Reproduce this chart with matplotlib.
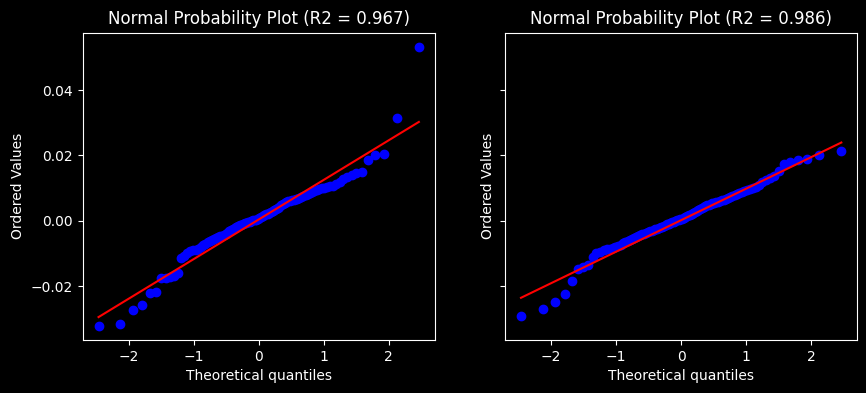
import matplotlib
matplotlib.use('Agg')
import matplotlib.pyplot as plt

# theoretical normal quantiles (same for both panels, n = 100), lower half
q_low = [-2.462, -2.126, -1.932, -1.790, -1.678, -1.584, -1.502, -1.429, -1.362, -1.302,
         -1.246, -1.193, -1.144, -1.097, -1.052, -1.010, -0.969, -0.930, -0.892, -0.856,
         -0.820, -0.786, -0.752, -0.720, -0.687, -0.656, -0.626, -0.595, -0.566, -0.537,
         -0.508, -0.480, -0.452, -0.424, -0.397, -0.370, -0.344, -0.317, -0.291, -0.265,
         -0.240, -0.214, -0.189, -0.164, -0.138, -0.113, -0.088, -0.062, -0.037, -0.012]
quantiles = q_low + [-v for v in reversed(q_low)]

# ordered values, left panel
left_vals = [-0.0322, -0.0316, -0.0273, -0.0258, -0.0222, -0.0218, -0.0176, -0.0175, -0.0172, -0.0168,
             -0.0159, -0.0115, -0.0108, -0.0100, -0.0093, -0.0090, -0.0088, -0.0085, -0.0080, -0.0075,
             -0.0070, -0.0066, -0.0062, -0.0059, -0.0057, -0.0054, -0.0051, -0.0048, -0.0045, -0.0042,
             -0.0039, -0.0036, -0.0032, -0.0029, -0.0026, -0.0023, -0.0020, -0.0017, -0.0014, -0.0012,
             -0.0010, -0.0008, -0.0006, -0.0005, -0.0003, -0.0001, 0.0001, 0.0002, 0.0004, 0.0006,
             0.0010, 0.0013, 0.0015, 0.0017, 0.0020, 0.0022, 0.0025, 0.0028, 0.0030, 0.0033,
             0.0036, 0.0040, 0.0043, 0.0047, 0.0052, 0.0055, 0.0058, 0.0060, 0.0062, 0.0063,
             0.0064, 0.0066, 0.0068, 0.0071, 0.0073, 0.0076, 0.0080, 0.0083, 0.0086, 0.0088,
             0.0090, 0.0093, 0.0096, 0.0099, 0.0101, 0.0104, 0.0106, 0.0108, 0.0112, 0.0120,
             0.0128, 0.0135, 0.0140, 0.0145, 0.0149, 0.0187, 0.0200, 0.0206, 0.0316, 0.0533]

# ordered values, right panel
right_vals = [-0.0292, -0.0271, -0.0249, -0.0225, -0.0185, -0.0148, -0.0140, -0.0135, -0.0112, -0.0100,
              -0.0095, -0.0090, -0.0087, -0.0085, -0.0082, -0.0080, -0.0077, -0.0073, -0.0069, -0.0066,
              -0.0063, -0.0060, -0.0056, -0.0052, -0.0049, -0.0046, -0.0043, -0.0041, -0.0039, -0.0036,
              -0.0034, -0.0032, -0.0030, -0.0028, -0.0026, -0.0024, -0.0022, -0.0020, -0.0018, -0.0015,
              -0.0013, -0.0011, -0.0009, -0.0007, -0.0005, -0.0003, -0.0001, 0.0001, 0.0003, 0.0005,
              0.0007, 0.0009, 0.0012, 0.0014, 0.0017, 0.0019, 0.0022, 0.0025, 0.0028, 0.0031,
              0.0034, 0.0037, 0.0040, 0.0043, 0.0045, 0.0047, 0.0049, 0.0051, 0.0053, 0.0055,
              0.0057, 0.0059, 0.0061, 0.0063, 0.0065, 0.0068, 0.0071, 0.0074, 0.0077, 0.0080,
              0.0083, 0.0086, 0.0088, 0.0090, 0.0093, 0.0097, 0.0101, 0.0105, 0.0110, 0.0118,
              0.0126, 0.0132, 0.0136, 0.0152, 0.0175, 0.0180, 0.0186, 0.0188, 0.0200, 0.0215]

# least squares fit lines (slope, intercept) and R2
left_fit = (0.01213, 0.0004)
right_fit = (0.00965, 0.0002)
titles = ['Normal Probability Plot (R2 = 0.967)', 'Normal Probability Plot (R2 = 0.986)']

plt.style.use('dark_background')
fig, axes = plt.subplots(1, 2, figsize=(8.66, 3.93), dpi=100, sharey=True)
fig.subplots_adjust(left=0.0953, right=0.990, bottom=0.1349, top=0.9168, wspace=0.199)

for ax, vals, fit, title in zip(axes, [left_vals, right_vals], [left_fit, right_fit], titles):
    ax.plot(quantiles, vals, 'bo')
    ends = [quantiles[0], quantiles[-1]]
    ax.plot(ends, [fit[0] * x + fit[1] for x in ends], 'r-')
    ax.set_title(title)
    ax.set_xlabel('Theoretical quantiles')
    ax.set_ylabel('Ordered Values')
    ax.tick_params(axis='y', labelleft=True) if ax is axes[0] else None

plt.savefig('out.png')
